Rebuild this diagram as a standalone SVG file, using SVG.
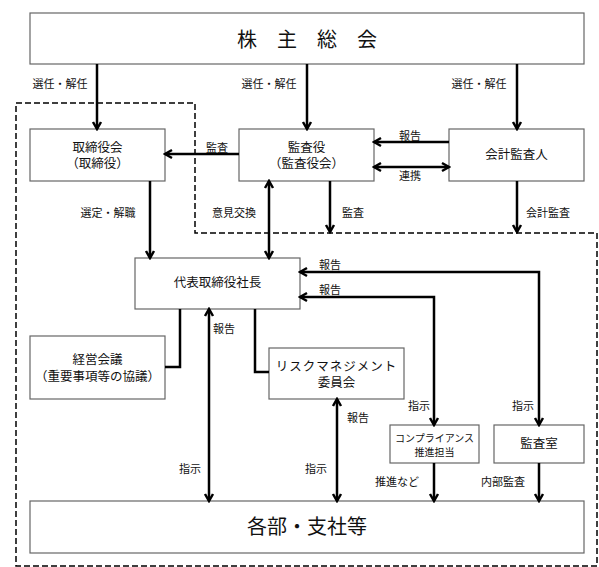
<svg xmlns="http://www.w3.org/2000/svg" width="599" height="567" viewBox="0 0 599 567">
<style>
text{font-family:"Liberation Serif","Noto Sans CJK JP",serif;fill:#111;text-anchor:middle;dominant-baseline:central}
.box{fill:#fff;stroke:#666;stroke-width:1.2}
.lbl{font-size:11px}
.bt{font-size:12.5px}
.sm{font-size:10px}
.big{font-size:20px}
.c{fill:none;stroke:#000;stroke-width:2.5}
.a{marker-end:url(#ah)}
.aa{marker-end:url(#ah);marker-start:url(#ah)}
.dash{fill:none;stroke:#000;stroke-width:1.5;stroke-dasharray:6 3}
</style>
<defs>
<marker id="ah" viewBox="-1 -6 10 12" refX="7" refY="0" markerWidth="10" markerHeight="12" markerUnits="userSpaceOnUse" orient="auto-start-reverse">
<path d="M0,-4 L7,0 L0,4" fill="none" stroke="#000" stroke-width="2.5"/>
</marker>
</defs>
<rect width="599" height="567" fill="#fff"/>
<path class="dash" d="M16,103 H195 V233 H597 V566 H16 Z"/>
<g id="n-shareholders"><rect class="box" x="30" y="13" width="554" height="51"/><text class="big" x="307" y="40">株　主　総　会</text></g>
<g id="n-board"><rect class="box" x="30" y="129" width="135" height="52"/><text class="bt" x="97.5" y="148">取締役会</text><text class="bt" x="97.5" y="164">（取締役）</text></g>
<g id="n-auditor"><rect class="box" x="239" y="129" width="135" height="52"/><text class="bt" x="306.5" y="148">監査役</text><text class="bt" x="306.5" y="164">（監査役会）</text></g>
<g id="n-accounting"><rect class="box" x="449" y="129" width="135" height="52"/><text class="bt" x="516.5" y="155">会計監査人</text></g>
<g id="n-president"><rect class="box" x="135" y="258" width="165" height="51"/><text class="bt" x="217.5" y="283">代表取締役社長</text></g>
<g id="n-management"><rect class="box" x="30" y="336" width="135" height="63"/><text class="bt" x="97.5" y="360">経営会議</text><text class="bt" x="97.5" y="377">（重要事項等の協議）</text></g>
<g id="n-risk"><rect class="box" x="269" y="348" width="135" height="51"/><text class="bt" x="336.5" y="367" letter-spacing="1">リスクマネジメント</text><text class="bt" x="336.5" y="383">委員会</text></g>
<g id="n-compliance"><rect class="box" x="390" y="425" width="89" height="38"/><text class="sm" x="434.5" y="438">コンプライアンス</text><text class="sm" x="434.5" y="452">推進担当</text></g>
<g id="n-audit-office"><rect class="box" x="494" y="425" width="90" height="38"/><text class="bt" x="539" y="444">監査室</text></g>
<g id="n-departments"><rect class="box" x="30" y="501" width="554" height="52"/><text class="big" x="307" y="527">各部・支社等</text></g>
<g id="connectors">
<path class="c a" d="M97,64 V129"/>
<path class="c a" d="M307,64 V129"/>
<path class="c a" d="M517,64 V129"/>
<path class="c a" d="M239,154 H165"/>
<path class="c a" d="M449,142 H374"/>
<path class="c aa" d="M374,167 H449"/>
<path class="c a" d="M330,181 V232"/>
<path class="c a" d="M517,181 V232"/>
<path class="c a" d="M150,181 V258"/>
<path class="c aa" d="M269,181 V258"/>
<path class="c" d="M180,309 V367 H165"/>
<path class="c" d="M255,309 V372 H269"/>
<path class="c aa" d="M209,309 V501"/>
<path class="c aa" d="M539,425 V272 H300"/>
<path class="c aa" d="M434,425 V297 H300"/>
<path class="c aa" d="M337,399 V501"/>
<path class="c a" d="M434,463 V501"/>
<path class="c a" d="M539,463 V501"/>
</g>
<g id="labels">
<text class="lbl" x="60" y="84">選任・解任</text>
<text class="lbl" x="269" y="84">選任・解任</text>
<text class="lbl" x="479" y="84">選任・解任</text>
<text class="lbl" x="217" y="148">監査</text>
<text class="lbl" x="410" y="136">報告</text>
<text class="lbl" x="410" y="176">連携</text>
<text class="lbl" x="108" y="213">選定・解職</text>
<text class="lbl" x="234" y="213">意見交換</text>
<text class="lbl" x="353" y="213">監査</text>
<text class="lbl" x="548" y="213">会計監査</text>
<text class="lbl" x="330" y="265">報告</text>
<text class="lbl" x="330" y="290">報告</text>
<text class="lbl" x="224" y="329">報告</text>
<text class="lbl" x="419" y="406">指示</text>
<text class="lbl" x="523" y="406">指示</text>
<text class="lbl" x="358" y="418">報告</text>
<text class="lbl" x="190" y="469">指示</text>
<text class="lbl" x="316" y="469">指示</text>
<text class="lbl" x="397" y="482">推進など</text>
<text class="lbl" x="503" y="482">内部監査</text>
</g>
</svg>
